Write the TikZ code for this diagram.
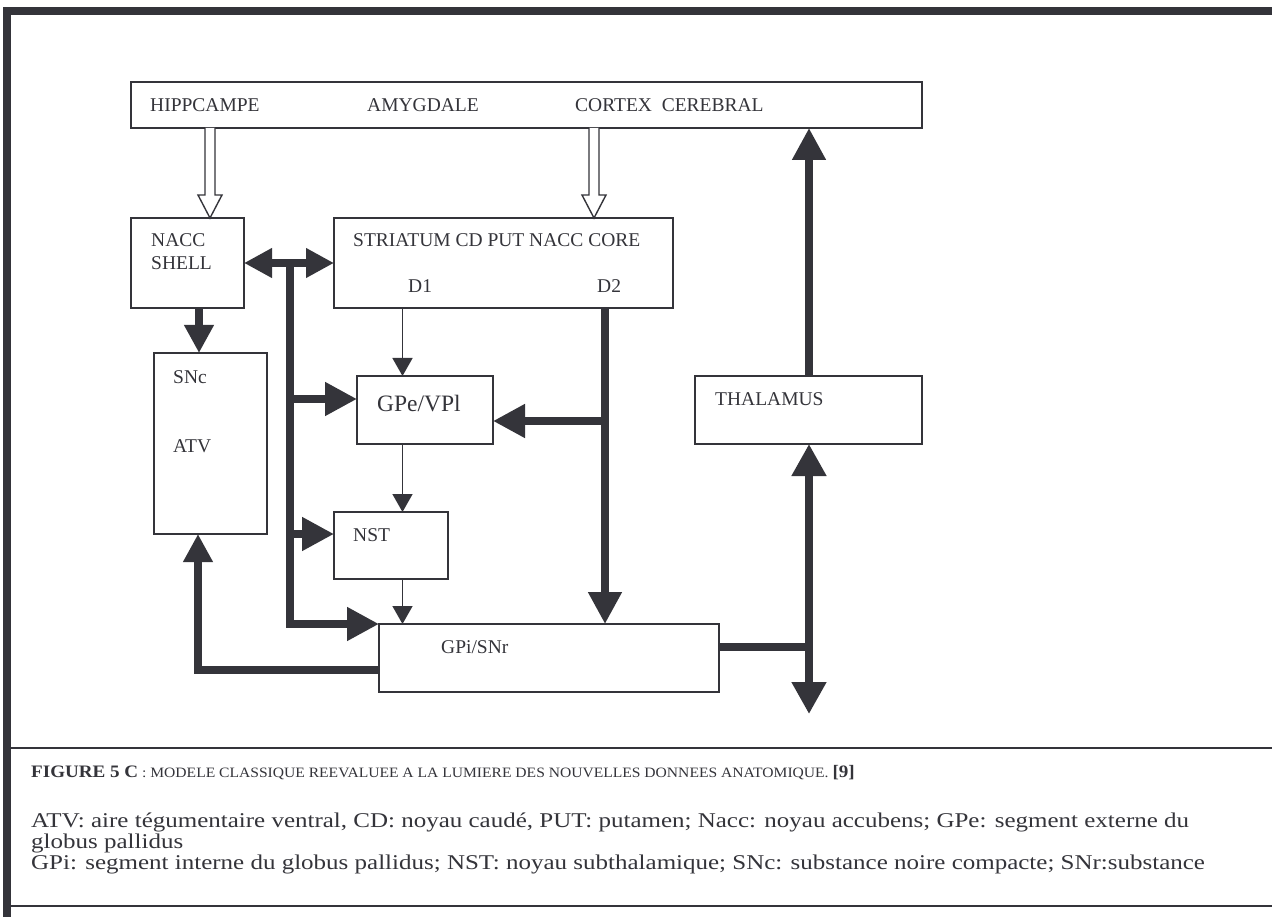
\documentclass[tikz,border=0pt]{standalone}
\usepackage{fontspec}
\setmainfont{Liberation Serif}
\usetikzlibrary{arrows.meta,calc}
\definecolor{ink}{RGB}{52,52,58}
\newcommand\wideline[2]{\scalebox{#1}[1]{#2}}
\begin{document}
\begin{tikzpicture}[x=1pt,y=-1pt,
  box/.style={draw=ink, line width=1.8pt, inner sep=0pt, outer sep=0pt, anchor=north west},
  lbl/.style={anchor=base west, inner sep=0pt, text=ink, font=\fontsize{19.5}{22}\selectfont},
  captxt/.style={anchor=base west, inner sep=0pt, text=ink, font=\fontsize{21}{21}\selectfont},
  fatline/.style={draw=ink, line width=7.7pt, line join=miter},
  bighead/.style={-{Triangle[length=32pt,width=32pt]}},
  smallhead/.style={-{Triangle[length=28pt,width=28pt]}},
  slim/.style={draw=ink, line width=1.5pt, -{Triangle[length=18pt,width=20pt]}},
  hollowstyle/.style={draw=ink, line width=1.4pt, fill=white, line join=miter}]
\useasboundingbox (0,0) rectangle (1272,917);
\fill[white] (0,0) rectangle (1272,917);
% frame
\fill[ink] (3,7) rectangle (1272,15);
\fill[ink] (3,7) rectangle (11,917);
\draw[ink, line width=2pt] (11,748) -- (1272,748);
\draw[ink, line width=2pt] (11,906) -- (1272,906);
% boxes
\node[box, minimum width=791pt, minimum height=46pt] (cortex) at (131,82) {};
\node[box, minimum width=113pt, minimum height=90pt] (nacc) at (131,218) {};
\node[box, minimum width=339pt, minimum height=90pt] (str) at (334,218) {};
\node[box, minimum width=113pt, minimum height=181pt] (snc) at (154,353) {};
\node[box, minimum width=136pt, minimum height=68pt] (gpe) at (357,376) {};
\node[box, minimum width=227pt, minimum height=68pt] (thal) at (695,376) {};
\node[box, minimum width=114pt, minimum height=67pt] (nst) at (334,512) {};
\node[box, minimum width=340pt, minimum height=68pt] (gpi) at (379,624) {};
% labels
\node[lbl] (t1) at (150,112) {HIPPCAMPE};
\node[lbl] (t2) at (367,112) {AMYGDALE};
\node[lbl] (t3) at (575,112) {CORTEX\ \ CEREBRAL};
\node[lbl] (t4) at (151,247) {NACC};
\node[lbl] (t5) at (151,270) {SHELL};
\node[lbl] (t6) at (353,247) {STRIATUM CD PUT NACC CORE};
\node[lbl] (t7) at (408,293) {D1};
\node[lbl] (t8) at (597,293) {D2};
\node[lbl] (t9) at (173,383) {SNc};
\node[lbl] (t10) at (173,452) {ATV};
\node[lbl, font=\fontsize{23.5}{26}\selectfont] (t11) at (377,411) {GPe/VPl};
\node[lbl] (t12) at (715,405) {THALAMUS};
\node[lbl] (t13) at (353,541) {NST};
\node[lbl] (t14) at (441,653) {GPi/SNr};
% coordinates
\coordinate (jt) at (290,263);
\coordinate (jb) at (290,624);
\coordinate (jg) at (290,399);
\coordinate (jn) at (290,534);
\coordinate (d2g) at (605,421);
\coordinate (xd2) at (605,0);
\coordinate (xd1) at (402.5,0);
\coordinate (xa) at (199,0);
\coordinate (lc) at (198,670);
\coordinate (rc) at (809,647);
\coordinate (dn) at (809,714);
\coordinate (xh1) at (210,0);
\coordinate (xh2) at (594,0);
% hollow arrows
\draw[hollowstyle] ($(cortex.south -| xh1)+(-5,0)$) -- ++(0,67) -- ++(-7,0) -- (nacc.north -| xh1) -- ++(12,-23) -- ++(-7,0) -- ($(cortex.south -| xh1)+(5,0)$);
\draw[hollowstyle] ($(cortex.south -| xh2)+(-5,0)$) -- ++(0,67) -- ++(-7,0) -- (str.north -| xh2) -- ++(12,-23) -- ++(-7,0) -- ($(cortex.south -| xh2)+(5,0)$);
% thick connectors
\draw[fatline, {Triangle[length=28pt,width=28pt]}-{Triangle[length=28pt,width=28pt]}] (nacc.east |- jt) -- (str.west |- jt);
\draw[fatline, bighead] (jt) -- (jb) -- (gpi.north west);
\draw[fatline, bighead] (jg) -- (gpe.west |- jg);
\draw[fatline, bighead] (jn) -- (nst.west |- jn);
\draw[fatline, smallhead] (nacc.south -| xa) -- (snc.north -| xa);
\draw[fatline, bighead] (str.south -| xd2) -- (gpi.north -| xd2);
\draw[fatline, bighead] (d2g) -- (gpe.east |- d2g);
\draw[fatline, smallhead] (gpi.west |- lc) -- (lc) -- (snc.south -| lc);
\draw[fatline] (gpi.east |- rc) -- (rc);
\draw[fatline, {Triangle[length=32pt,width=33pt]}-{Triangle[length=32pt,width=33pt]}] (thal.south -| rc) -- (dn);
\draw[fatline, bighead] (thal.north -| rc) -- (cortex.south -| rc);
% thin connectors
\draw[slim] (str.south -| xd1) -- (gpe.north -| xd1);
\draw[slim] (gpe.south -| xd1) -- (nst.north -| xd1);
\draw[slim] (nst.south -| xd1) -- (gpi.north -| xd1);
% caption
\node[anchor=base west, inner sep=0pt, text=ink] (c1) at (31,777) {\wideline{1.09}{\fontsize{17.5}{20}\selectfont\textbf{FIGURE 5 C}\fontsize{14.3}{17}\selectfont{} : MODELE CLASSIQUE REEVALUEE A LA LUMIERE DES NOUVELLES DONNEES ANATOMIQUE. \fontsize{17.5}{20}\selectfont\textbf{[9]}}};
\node[captxt] (c2) at (31,827) {\wideline{1.19}{ATV: aire tégumentaire ventral, CD: noyau caudé, PUT: putamen; Nacc: noyau accubens; GPe: segment externe du}};
\node[captxt] (c3) at (31,848) {\wideline{1.19}{globus pallidus}};
\node[captxt] (c4) at (31,869) {\wideline{1.19}{GPi: segment interne du globus pallidus; NST: noyau subthalamique; SNc: substance noire compacte; SNr:substance}};
\end{tikzpicture}
\end{document}
